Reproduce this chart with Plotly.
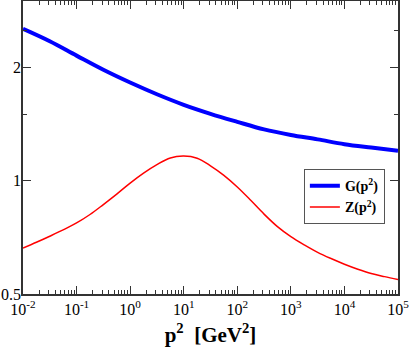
import plotly.graph_objects as go

# p^2 in GeV^2
p2_G = [0.01, 0.0316, 0.1, 0.316, 1, 3.16, 10, 31.6, 100, 316, 1e3, 3.16e3, 1e4, 3.16e4, 1e5]
G = [2.53, 2.345, 2.148, 1.97, 1.822, 1.696, 1.59, 1.505, 1.433, 1.368, 1.322, 1.287, 1.25, 1.224, 1.20]

p2_Z = [0.01, 0.0178, 0.0316, 0.0562, 0.1, 0.178, 0.316, 0.562, 1, 1.78, 3.16, 5.62,
        10, 17.8, 31.6, 56.2, 100, 178, 316, 562, 1000, 1780, 3160, 5620,
        1e4, 17800, 31600, 56200, 1e5]
Z = [0.662, 0.686, 0.712, 0.740, 0.772, 0.813, 0.864, 0.921, 0.985, 1.047, 1.103, 1.149,
     1.162, 1.147, 1.095, 1.033, 0.962, 0.887, 0.815, 0.755, 0.710, 0.675, 0.645, 0.621,
     0.600, 0.582, 0.567, 0.556, 0.546]

x_ticks = [1e-2, 1e-1, 1e0, 1e1, 1e2, 1e3, 1e4, 1e5]
x_labels = ["10<sup>-2</sup>", "10<sup>-1</sup>", "10<sup>0</sup>", "10<sup>1</sup>",
            "10<sup>2</sup>", "10<sup>3</sup>", "10<sup>4</sup>", "10<sup>5</sup>"]
y_ticks = [0.5, 1, 2]
y_labels = ["0.5", "1", "2"]

font = "Liberation Serif"

fig = go.Figure()
fig.add_trace(go.Scatter(x=p2_G, y=G, mode="lines", name="<b>G(p<sup>2</sup>)</b>",
                         line=dict(color="#0000ff", width=4, shape="spline")))
fig.add_trace(go.Scatter(x=p2_Z, y=Z, mode="lines", name="<b>Z(p<sup>2</sup>)</b>",
                         line=dict(color="#ff0000", width=1.5, shape="spline")))

minor_x = [m * 10**e for e in range(-2, 5) for m in range(2, 10)]

fig.update_layout(
    width=409, height=354,
    margin=dict(l=23, r=11, t=1, b=60),
    paper_bgcolor="white", plot_bgcolor="white",
    font=dict(family=font, size=16, color="black"),
    showlegend=True,
    legend=dict(x=0.749, y=0.426, xanchor="left", yanchor="top", itemwidth=30,
                bordercolor="#555", borderwidth=1, bgcolor="white",
                font=dict(family=font, size=14), tracegroupgap=0),
)
fig.update_xaxes(
    type="log", range=[-2, 5], tickvals=x_ticks, ticktext=x_labels, automargin=False,
    ticklabeloverflow="allow",
    showgrid=False, zeroline=False, showline=True, linecolor="#333", linewidth=1.5,
    mirror="allticks", ticks="inside", ticklen=8, tickcolor="#333",
    minor=dict(tickmode="array", tickvals=minor_x, ticks="inside", ticklen=4, tickcolor="#333"),
    title=dict(text="<b>p<sup>2</sup>  [GeV<sup>2</sup>]</b>", font=dict(size=21), standoff=10),
)
fig.update_yaxes(
    type="log", range=[-0.30103, 0.4771], tickvals=y_ticks, ticktext=y_labels, automargin=False,
    ticklabeloverflow="allow", ticklabelstandoff=-3,
    showgrid=False, zeroline=False, showline=True, linecolor="#333", linewidth=1.5,
    mirror="allticks", ticks="inside", ticklen=8, tickcolor="#333",
    minor=dict(tickmode="array", tickvals=[1.5, 2.5], ticks="inside", ticklen=4, tickcolor="#333"),
)

fig.write_html("out.html", config={"displayModeBar": False},
               post_script="document.body.style.margin='0';")
